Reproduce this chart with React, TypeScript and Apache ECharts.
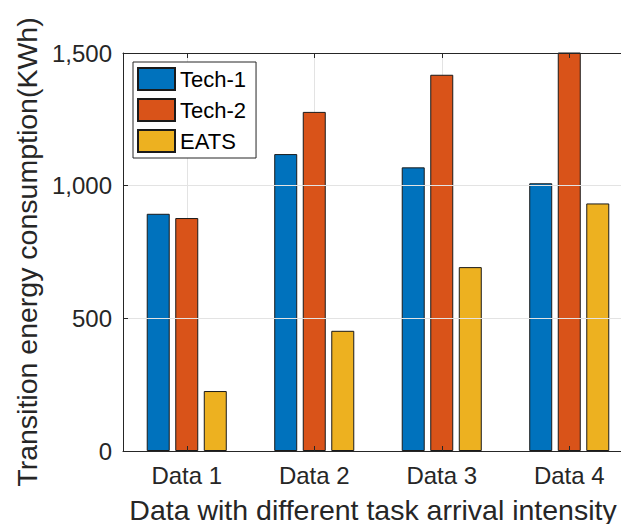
import React, { useEffect, useRef } from "react";
import * as echarts from "echarts";

const categories = ["Data 1", "Data 2", "Data 3", "Data 4"];
const tech1 = [894, 1119, 1069, 1009];
const tech2 = [878, 1278, 1418, 1505];
const eats = [226, 453, 693, 933];
const seriesNames = ["Tech-1", "Tech-2", "EATS"];
const yTicks = [0, 500, 1000, 1500];

const FONT = "'Liberation Sans', Arial, Helvetica, sans-serif";
const TXT = "#262626";
const GRIDC = "#e3e3e3";

export default function App() {
  const ref = useRef<HTMLDivElement>(null);
  useEffect(() => {
    if (!ref.current) return;
    const chart = echarts.init(ref.current, null, { renderer: "svg" });
    const yMin = yTicks[0];
    const yMax = yTicks[yTicks.length - 1];
    const barBase = {
      type: "bar" as const,
      barWidth: 23,
      barGap: "24%",
      clip: true,
      itemStyle: { borderColor: "#1a1a1a", borderWidth: 1 },
      z: 6,
    };
    chart.setOption({
      animation: false,
      textStyle: { fontFamily: FONT, color: TXT },
      grid: {
        left: 123,
        top: 53,
        width: 510,
        height: 398,
        containLabel: false,
        outerBoundsMode: "none",
      },
      legend: {
        data: seriesNames,
        orient: "vertical",
        left: 133,
        top: 62,
        itemWidth: 37,
        itemHeight: 22,
        itemGap: 7,
        padding: [5, 10, 5, 4],
        backgroundColor: "#ffffff",
        borderColor: TXT,
        borderWidth: 1,
        icon: "rect",
        z: 10,
        textStyle: { fontSize: 22, color: "#000", fontFamily: FONT },
      },
      xAxis: [
        {
          type: "category",
          data: categories,
          position: "bottom",
          name: "Data with different task arrival intensity",
          nameLocation: "middle",
          nameGap: 44,
          nameTextStyle: { fontSize: 28.5, color: TXT, fontFamily: FONT, padding: [0, 10, 0, 0] },
          axisLine: { show: true, lineStyle: { color: TXT, width: 1 } },
          axisTick: { show: true, inside: true, alignWithLabel: true, length: 5, lineStyle: { color: TXT } },
          axisLabel: { fontSize: 24, color: TXT, margin: 12, fontFamily: FONT },
          splitLine: { show: false },
          z: 7,
        },
        {
          type: "category",
          data: categories,
          position: "top",
          axisLine: { show: true, lineStyle: { color: TXT, width: 1 } },
          axisTick: { show: true, inside: true, alignWithLabel: true, length: 5, lineStyle: { color: TXT } },
          axisLabel: { show: false },
          splitLine: { show: false },
          z: 7,
        },
      ],
      yAxis: {
        type: "value",
        min: yMin,
        max: yMax,
        interval: 500,
        name: "Transition energy consumption(KWh)",
        nameLocation: "middle",
        nameGap: 76,
        nameTextStyle: { fontSize: 28.5, color: TXT, fontFamily: FONT },
        axisLine: { show: true, lineStyle: { color: TXT, width: 1 } },
        axisTick: { show: true, inside: true, length: 5, lineStyle: { color: TXT } },
        axisLabel: {
          fontSize: 24,
          color: TXT,
          margin: 11,
          fontFamily: FONT,
          formatter: (v: number) => v.toLocaleString("en-US"),
        },
        splitLine: { show: true, lineStyle: { color: GRIDC, width: 1 } },
        z: 7,
      },
      series: [
        {
          name: "grid-x",
          type: "custom",
          data: categories.map((_, i) => [i]),
          z: 1,
          silent: true,
          clip: false,
          renderItem: (_params: any, api: any) => {
            const idx = api.value(0);
            const p0 = api.coord([idx, yMin]);
            const p1 = api.coord([idx, yMax]);
            const x = Math.round(p0[0]) + 0.5;
            return {
              type: "line",
              shape: { x1: x, y1: p0[1], x2: x, y2: p1[1] },
              style: { stroke: GRIDC, lineWidth: 1 },
            };
          },
        },
        { ...barBase, name: seriesNames[0], data: tech1, itemStyle: { ...barBase.itemStyle, color: "#0072BD" } },
        { ...barBase, name: seriesNames[1], data: tech2, itemStyle: { ...barBase.itemStyle, color: "#D95319" } },
        { ...barBase, name: seriesNames[2], data: eats, itemStyle: { ...barBase.itemStyle, color: "#EDB120" } },
      ],
    });
    return () => chart.dispose();
  }, []);
  return (
    <div
      ref={ref}
      style={{ position: "fixed", left: 0, top: 0, width: 621, height: 524, background: "#fff" }}
    />
  );
}
